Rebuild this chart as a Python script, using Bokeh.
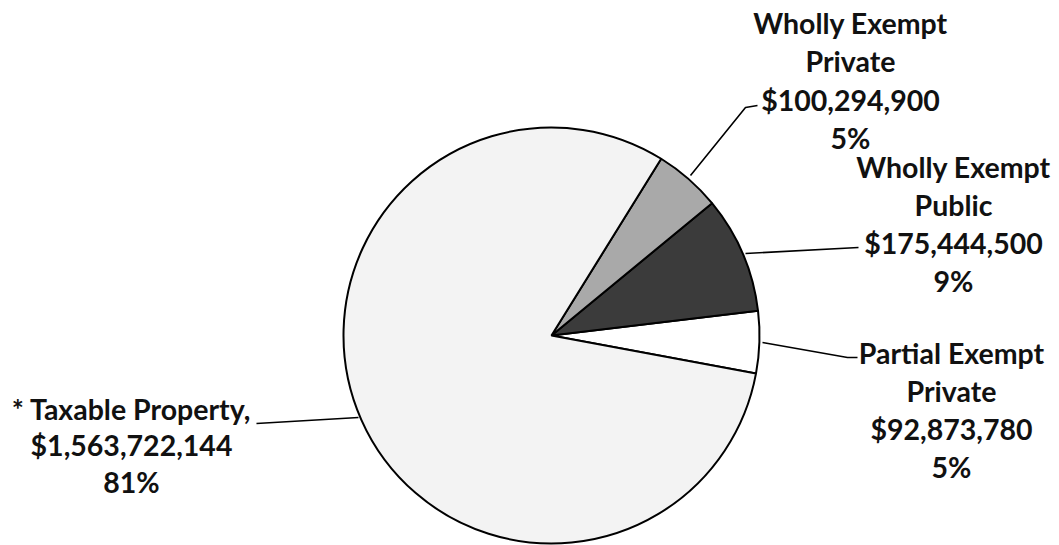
import math
from bokeh.plotting import figure
from bokeh.models import ColumnDataSource, Range1d
from bokeh.core.properties import value
from bokeh.embed import file_html
from bokeh.resources import INLINE

# ---- data (counter-clockwise order, starting just below 3 o'clock) ----
categories = ["Partial Exempt Private", "Wholly Exempt Public",
              "Wholly Exempt Private", "* Taxable Property"]
values = [92873780, 175444500, 100294900, 1563722144]
label_names = [["Partial Exempt", "Private"],
               ["Wholly Exempt", "Public"],
               ["Wholly Exempt", "Private"],
               ["* Taxable Property,"]]
colors = ["#ffffff", "#3b3b3b", "#a9a9a9", "#f3f3f3"]

# ---- layout (pixel coords of the reference, y measured downward) ----
W, H = 1059, 545
def Y(py):
    return H - py

cx, cy, r = 551, 335, 208
start_deg = -10.5

total = sum(values)
starts, ends = [], []
a = math.radians(start_deg)
for v in values:
    starts.append(a)
    a += 2 * math.pi * v / total
    ends.append(a)

p = figure(width=W, height=H, output_backend="svg", toolbar_location=None,
           x_range=Range1d(0, W), y_range=Range1d(0, H),
           min_border=0)
p.axis.visible = False
p.grid.visible = False
p.outline_line_color = None
p.background_fill_color = "white"
p.border_fill_color = "white"

src = ColumnDataSource(dict(start=starts, end=ends, color=colors, cat=categories))
p.wedge(x=cx, y=Y(cy), radius=r, start_angle="start", end_angle="end",
        fill_color="color", line_color="black", line_width=2, source=src)

# leader lines
leaders = [
    [(762, 342), (847, 357), (857, 357)],
    [(745, 253), (858, 247)],
    [(690, 175), (745, 107), (757, 105)],
    [(358, 417), (256, 423)],
]
for pts in leaders:
    p.line([q[0] for q in pts], [Y(q[1]) for q in pts], line_color="black", line_width=1.6)

# label anchors: center x, first baseline y, line spacing
anchors = [(951, 352, 38), (953, 166, 38), (850, 22, 38.5), (131, 408, 36.5)]

xs, ys, texts = [], [], []
for names, v, (ax, ay, sp) in zip(label_names, values, anchors):
    lines = list(names) + [f"${v:,}", f"{round(100 * v / total)}%"]
    for i, t in enumerate(lines):
        xs.append(ax)
        ys.append(Y(ay + i * sp))
        texts.append(t)

p.text(x=xs, y=ys, text=texts, text_font=value("Lato"), text_font_style="bold",
       text_font_size="28.5px", text_align="center", text_baseline="alphabetic",
       text_color="#111111")

open("out.html", "w").write(file_html(p, INLINE))
